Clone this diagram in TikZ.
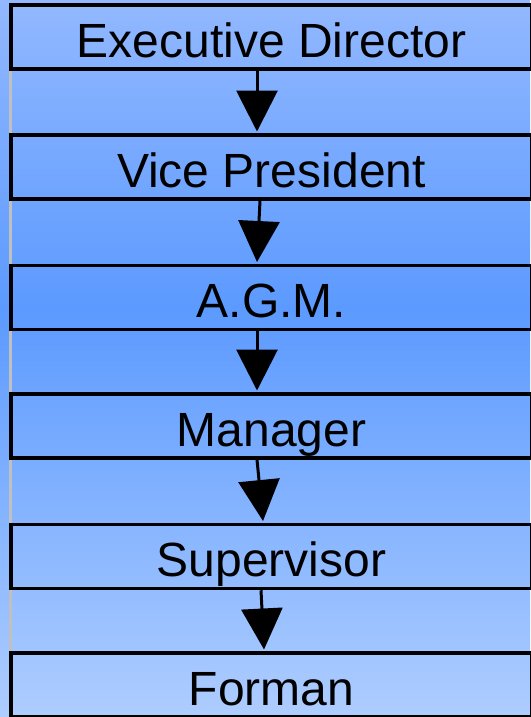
\documentclass[tikz,border=0pt]{standalone}
\usepackage{fontspec}
\setmainfont{Liberation Sans}
\usetikzlibrary{arrows.meta,calc}
\definecolor{bgtop}{RGB}{146,184,255}
\definecolor{bgmid}{RGB}{92,154,255}
\definecolor{bgbot}{RGB}{174,205,255}
\definecolor{stripgray}{RGB}{192,192,192}
\pgfdeclareverticalshading{bgshade}{100bp}{color(0bp)=(bgbot); color(25bp)=(bgbot); color(53.5bp)=(bgmid); color(75bp)=(bgtop); color(100bp)=(bgtop)}
\begin{document}
\begin{tikzpicture}[x=1pt,y=-1pt,
  box/.style={draw=black, line width=3.5pt, rectangle, minimum width=521pt,
    minimum height=64pt, inner sep=0pt, text height=43pt, text depth=3pt,
    font=\fontsize{48}{52}\selectfont},
  link/.style={line width=3pt, -{Triangle[width=41pt,length=41pt]}},
  strip/.style={draw=stripgray, line width=3pt}]
\useasboundingbox (0,0) rectangle (530,717);
\shade[shading=bgshade] (0,0) rectangle (530,717);
\draw[strip] (10.75,5) -- (10.75,716);
\node[box] (ed)  at (271.5,37)    {Executive Director};
\node[box] (vp)  at (271.5,167)   {Vice President};
\node[box] (agm) at (271.5,297.5) {A.G.M.};
\node[box] (mgr) at (271.5,426)   {Manager};
\node[box] (sup) at (271.5,556.5) {Supervisor};
\node[box] (frm) at (271.5,685)   {Forman};
\draw[link] ($(ed.south)+(-14.5,0)$)  -- ($(vp.north)+(-14.5,-1.75)$);
\draw[link] ($(vp.south)+(-11.5,0)$)  -- ($(agm.north)+(-14.5,-1.75)$);
\draw[link] ($(agm.south)+(-14.5,0)$) -- ($(mgr.north)+(-14.5,-1.75)$);
\draw[link] ($(mgr.south)+(-14.5,0)$) -- ($(sup.north)+(-8.5,-1.75)$);
\draw[link] ($(sup.south)+(-10.5,0)$) -- ($(frm.north)+(-7.5,-1.75)$);
\end{tikzpicture}
\end{document}
